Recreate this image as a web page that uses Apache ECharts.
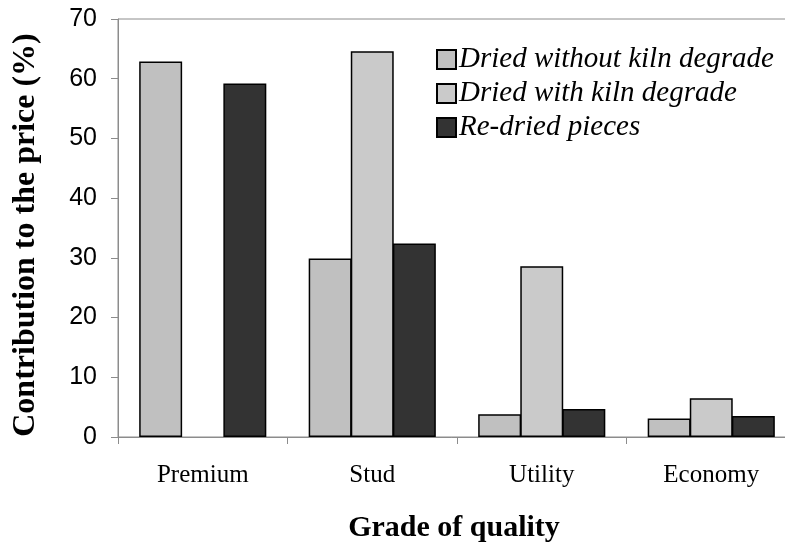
<!DOCTYPE html>
<html>
<head>
<meta charset="utf-8">
<script src="https://cdn.jsdelivr.net/npm/echarts@6/dist/echarts.min.js"></script>
<style>
html,body{margin:0;padding:0;background:#fff;}
#chart{width:785px;height:546px;}
</style>
</head>
<body>
<div id="chart"></div>
<script>
var categories = ['Premium', 'Stud', 'Utility', 'Economy'];
var seriesNames = ['Dried without kiln degrade', 'Dried with kiln degrade', 'Re-dried pieces'];
var driedWithout = [62.9, 29.9, 3.8, 3.1];
var driedWith = [null, 64.6, 28.6, 6.5];
var reDried = [59.2, 32.4, 4.7, 3.5];
var yTicks = [0, 10, 20, 30, 40, 50, 60, 70];

var colors = ['#c0c0c0', '#cacaca', '#333333'];
var chart = echarts.init(document.getElementById('chart'));
function mk(name, data, color) {
  return {
    name: name, type: 'bar', data: data,
    barGap: '-2%', barCategoryGap: '25%',
    itemStyle: { color: color, borderColor: '#000', borderWidth: 1.5 },
    emphasis: { disabled: true }
  };
}
chart.setOption({
  animation: false,
  grid: { left: 118, top: 19, bottom: 109, right: -11, outerBoundsMode: 'none', containLabel: false, show: true, borderColor: '#8c8c8c', borderWidth: 1, backgroundColor: 'transparent' },
  legend: {
    left: 431, top: 40, orient: 'vertical', itemWidth: 19, itemHeight: 19, itemGap: 5,
    icon: 'rect',
    textStyle: { fontFamily: 'Liberation Serif', fontStyle: 'italic', fontSize: 29, color: '#000', lineHeight: 28, padding: [0,0,0,-2] },
    data: seriesNames
  },
  xAxis: {
    type: 'category', data: categories,
    axisLine: { lineStyle: { color: '#8c8c8c', width: 1 } },
    axisTick: { show: true, length: 7, lineStyle: { color: '#8c8c8c' } },
    axisLabel: { margin: 26, fontFamily: 'Liberation Serif', fontSize: 25, color: '#000' }
  },
  yAxis: {
    type: 'value', min: yTicks[0], max: yTicks[yTicks.length - 1], interval: 10,
    splitLine: { show: false },
    axisLine: { show: true, lineStyle: { color: '#8c8c8c', width: 1 } },
    axisTick: { show: true, length: 7, lineStyle: { color: '#8c8c8c' } },
    axisLabel: { margin: 21, fontFamily: 'Liberation Sans', fontSize: 25, color: '#000' }
  },
  graphic: [
    { type: 'text', x: 454, y: 528, style: { text: 'Grade of quality', font: 'bold 30px "Liberation Serif"', fill: '#000', textAlign: 'center', textVerticalAlign: 'middle' } },
    { type: 'text', x: 26, y: 235, rotation: Math.PI / 2, style: { text: 'Contribution to the price (%)', font: 'bold 32px "Liberation Serif"', fill: '#000', textAlign: 'center', textVerticalAlign: 'middle' } }
  ],
  series: [
    mk(seriesNames[0], driedWithout, colors[0]),
    mk(seriesNames[1], driedWith, colors[1]),
    mk(seriesNames[2], reDried, colors[2])
  ]
});
</script>
</body>
</html>
